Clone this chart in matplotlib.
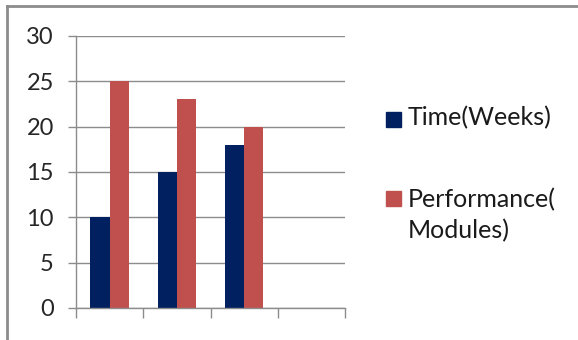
import matplotlib.pyplot as plt
from matplotlib.lines import Line2D
from matplotlib.patches import Rectangle
import numpy as np

# Chart data
series_names = ['Time(Weeks)', 'Performance(\nModules)']
time_weeks = [10, 15, 18]
performance = [25, 23, 20]
n_slots = 4          # category slots on the x axis (last one is empty)
y_ticks = [0, 5, 10, 15, 20, 25, 30]

navy = '#002060'
red = '#C0504D'
grey = '#8C8C8C'

plt.rcParams['font.family'] = ['Lato', 'DejaVu Sans']

W, H = 578, 340
fig = plt.figure(figsize=(W / 100, H / 100), dpi=100)
ax = fig.add_axes([76 / W, 1 - 308 / H, 269 / W, 272 / H])

x = np.arange(len(time_weeks))
w = 0.287
ax.bar(x - w / 2, time_weeks, w, color=navy, zorder=3)
ax.bar(x + w / 2, performance, w, color=red, zorder=3)

ax.set_xlim(-0.5, n_slots - 0.5)
ax.set_ylim(0, 30)
ax.set_yticks(y_ticks)
ax.set_xticks(np.arange(n_slots + 1) - 0.5)
ax.set_xticklabels([])
ax.yaxis.grid(True, color=grey, linewidth=1.0, zorder=0)
ax.set_axisbelow(True)

for s in ('top', 'right'):
    ax.spines[s].set_visible(False)
for s in ('left', 'bottom'):
    ax.spines[s].set_color(grey)
    ax.spines[s].set_linewidth(1.0)
    ax.spines[s].set_zorder(4)

ax.tick_params(axis='y', length=6, width=1.0, color=grey, pad=10,
               labelsize=17, labelcolor='#262626')
ax.tick_params(axis='x', length=7, width=1.0, color=grey)

# legend drawn by hand: square key + label, positions in pixels
def px(xp, yp):
    return xp / W, 1 - yp / H

for colour, label, key_y, text_y in [(navy, series_names[0], 112, 118),
                                     (red, series_names[1], 191, 215)]:
    kx, ky = px(386, key_y + 15)
    fig.add_artist(Rectangle((kx, ky), 15 / W, 15 / H, transform=fig.transFigure,
                             color=colour))
    tx, ty = px(408, text_y)
    fig.text(tx, ty, label, fontsize=18, color='#1a1a1a', va='center',
             ha='left', linespacing=1.4)

# frame edges of the chart area
fig.add_artist(Line2D([7 / W, 7 / W], [0, 1 - 6 / H], color=grey, linewidth=2))
fig.add_artist(Line2D([7 / W, 1], [1 - 6 / H, 1 - 6 / H], color=grey, linewidth=2))

fig.savefig('out.png', dpi=100)
